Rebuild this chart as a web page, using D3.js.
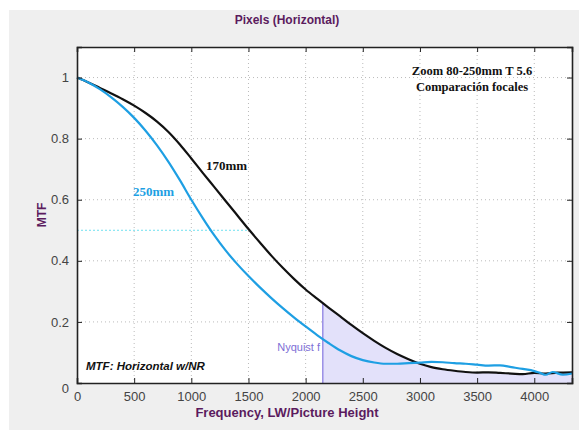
<!DOCTYPE html>
<html lang="en">
<head>
  <meta charset="UTF-8">
  <title>MTF Horizontal</title>
  <script src="https://d3js.org/d3.v7.min.js"></script>
  <style>
    body { margin: 0; background: #fff; font-family: "Liberation Sans", Arial, sans-serif; }
    .tick text { font-size: 13px; fill: #444; }
  </style>
</head>
<body>
  <script>
    // MTF curves (frequency in LW/PH, MTF)
    const freq170 = [0, 100, 200, 300, 400, 500, 600, 700, 800, 900, 1000, 1100, 1200, 1300, 1400, 1500, 1600, 1700, 1800, 1900, 2000, 2100, 2200, 2300, 2400, 2500, 2600, 2700, 2800, 2900, 3000, 3100, 3200, 3300, 3400, 3500, 3600, 3700, 3800, 3900, 4000, 4100, 4200, 4330];
    const mtf170 = [1.0, 0.984, 0.966, 0.948, 0.929, 0.908, 0.884, 0.856, 0.822, 0.781, 0.735, 0.688, 0.642, 0.596, 0.55, 0.504, 0.46, 0.417, 0.377, 0.34, 0.306, 0.276, 0.247, 0.219, 0.19, 0.163, 0.138, 0.115, 0.095, 0.078, 0.063, 0.052, 0.045, 0.04, 0.036, 0.034, 0.035, 0.033, 0.031, 0.029, 0.033, 0.031, 0.034, 0.035];

    const freq250 = [0, 100, 200, 300, 400, 500, 600, 700, 800, 900, 1000, 1100, 1200, 1300, 1400, 1500, 1600, 1700, 1800, 1900, 2000, 2100, 2200, 2300, 2400, 2500, 2600, 2700, 2800, 2900, 3000, 3100, 3200, 3300, 3400, 3500, 3600, 3700, 3800, 3900, 4000, 4050, 4100, 4160, 4250, 4330];
    const mtf250 = [1.0, 0.984, 0.962, 0.935, 0.904, 0.868, 0.826, 0.778, 0.724, 0.664, 0.6, 0.54, 0.484, 0.434, 0.39, 0.35, 0.313, 0.278, 0.245, 0.214, 0.185, 0.157, 0.131, 0.107, 0.088, 0.075, 0.067, 0.063, 0.063, 0.065, 0.067, 0.069, 0.068, 0.065, 0.063, 0.06, 0.057, 0.058, 0.052, 0.046, 0.039, 0.033, 0.027, 0.036, 0.027, 0.031];

    const xTicks = [0, 500, 1000, 1500, 2000, 2500, 3000, 3500, 4000];
    const yTicks = [0, 0.2, 0.4, 0.6, 0.8, 1];
    const nyquist = 2150;
    const mtf50Freq = 1505; // where 170mm crosses 0.5

    const width = 579, height = 436;
    const m = { left: 77, right: 7, top: 47, bottom: 53 };
    const iw = width - m.left - m.right, ih = height - m.top - m.bottom;

    const svg = d3.select("body").append("svg")
      .attr("width", width).attr("height", height);

    // grey panel
    svg.append("rect").attr("x", 9).attr("y", 10).attr("width", width - 9).attr("height", 420)
      .attr("fill", "#efefef");

    const x = d3.scaleLinear().domain([0, 4330]).range([0, iw]);
    const y = d3.scaleLinear().domain([0, 1.1]).range([ih, 0]);

    const g = svg.append("g").attr("transform", `translate(${m.left},${m.top})`);
    g.append("rect").attr("width", iw).attr("height", ih).attr("fill", "#fff");

    // dotted grid
    g.selectAll(".vg").data(xTicks.slice(1)).enter().append("line")
      .attr("x1", d => x(d)).attr("x2", d => x(d)).attr("y1", 0).attr("y2", ih)
      .attr("stroke", "#bbb").attr("stroke-dasharray", "1,3");
    g.selectAll(".hg").data(yTicks.slice(1)).enter().append("line")
      .attr("x1", 0).attr("x2", iw).attr("y1", d => y(d)).attr("y2", d => y(d))
      .attr("stroke", "#bbb").attr("stroke-dasharray", "1,3");

    const d170 = freq170.map((f, i) => [f, mtf170[i]]);
    const d250 = freq250.map((f, i) => [f, mtf250[i]]);

    // shaded area beyond Nyquist under the 170mm curve
    const nyqVal = d3.scaleLinear().domain(freq170).range(mtf170)(nyquist);
    const shade = [[nyquist, nyqVal]].concat(d170.filter(d => d[0] > nyquist));
    g.append("path").datum(shade)
      .attr("fill", "#e3e1fa")
      .attr("d", d3.area().x(d => x(d[0])).y0(ih).y1(d => y(d[1])).curve(d3.curveMonotoneX));
    g.append("line")
      .attr("x1", x(nyquist)).attr("x2", x(nyquist)).attr("y1", ih).attr("y2", y(nyqVal))
      .attr("stroke", "#9a8fe6").attr("stroke-width", 1.5);

    // MTF50 marker line
    g.append("line")
      .attr("x1", 0).attr("x2", x(mtf50Freq)).attr("y1", y(0.5)).attr("y2", y(0.5))
      .attr("stroke", "#6fe0f0").attr("stroke-dasharray", "2,2");

    const line = d3.line().x(d => x(d[0])).y(d => y(d[1])).curve(d3.curveMonotoneX);
    g.append("path").datum(d170).attr("d", line)
      .attr("fill", "none").attr("stroke", "#111").attr("stroke-width", 2.2);
    g.append("path").datum(d250).attr("d", line)
      .attr("fill", "none").attr("stroke", "#1e9fe3").attr("stroke-width", 2.2);

    // axes (MATLAB style, ticks inside on all four sides)
    g.append("g").attr("transform", `translate(0,${ih})`)
      .call(d3.axisBottom(x).tickValues(xTicks).tickSize(-5).tickPadding(9).tickFormat(d3.format("d")));
    g.append("g").call(d3.axisTop(x).tickValues(xTicks).tickSize(-5).tickFormat(""));
    const ya = g.append("g")
      .call(d3.axisLeft(y).tickValues(yTicks).tickSize(-5).tickPadding(8).tickFormat(d => d === 0 ? "0" : d === 1 ? "1" : d3.format(".1f")(d)));
    g.append("g").attr("transform", `translate(${iw},0)`)
      .call(d3.axisRight(y).tickValues(yTicks).tickSize(-5).tickFormat(""));
    g.selectAll(".domain").attr("stroke", "#222").attr("stroke-width", 1.6);
    g.selectAll(".tick line").attr("stroke", "#222");
    ya.selectAll(".tick").filter(d => d === 0).select("text").attr("dy", "0.75em");

    // titles
    const purple = "#5b1b5e";
    svg.append("text").attr("x", 287).attr("y", 24).attr("text-anchor", "middle")
      .attr("font-size", 12).attr("font-weight", "bold").attr("fill", purple)
      .text("Pixels (Horizontal)");
    svg.append("text").attr("x", 287).attr("y", 417).attr("text-anchor", "middle")
      .attr("font-size", 13).attr("font-weight", "bold").attr("fill", purple)
      .text("Frequency, LW/Picture Height");
    svg.append("text").attr("transform", "translate(46,215) rotate(-90)").attr("text-anchor", "middle")
      .attr("font-size", 12).attr("font-weight", "bold").attr("fill", purple)
      .text("MTF");

    // annotations
    const serif = "'Liberation Serif', 'Times New Roman', serif";
    svg.append("text").attr("x", 472).attr("y", 75).attr("text-anchor", "middle")
      .attr("font-family", serif).attr("font-size", 12.5).attr("font-weight", "bold").attr("fill", "#111")
      .text("Zoom 80-250mm T 5.6");
    svg.append("text").attr("x", 472).attr("y", 91).attr("text-anchor", "middle")
      .attr("font-family", serif).attr("font-size", 12.5).attr("font-weight", "bold").attr("fill", "#111")
      .text("Comparación focales");
    svg.append("text").attr("x", 206).attr("y", 170)
      .attr("font-family", serif).attr("font-size", 13).attr("font-weight", "bold").attr("fill", "#111")
      .text("170mm");
    svg.append("text").attr("x", 133).attr("y", 196)
      .attr("font-family", serif).attr("font-size", 13).attr("font-weight", "bold").attr("fill", "#1e9fe3")
      .text("250mm");
    svg.append("text").attr("x", 86).attr("y", 370)
      .attr("font-size", 11.5).attr("font-weight", "bold").attr("font-style", "italic").attr("fill", "#111")
      .text("MTF: Horizontal w/NR");
    svg.append("text").attr("x", 320).attr("y", 351).attr("text-anchor", "end")
      .attr("font-size", 11).attr("fill", "#7d6fd6")
      .text("Nyquist f");
  </script>
</body>
</html>
